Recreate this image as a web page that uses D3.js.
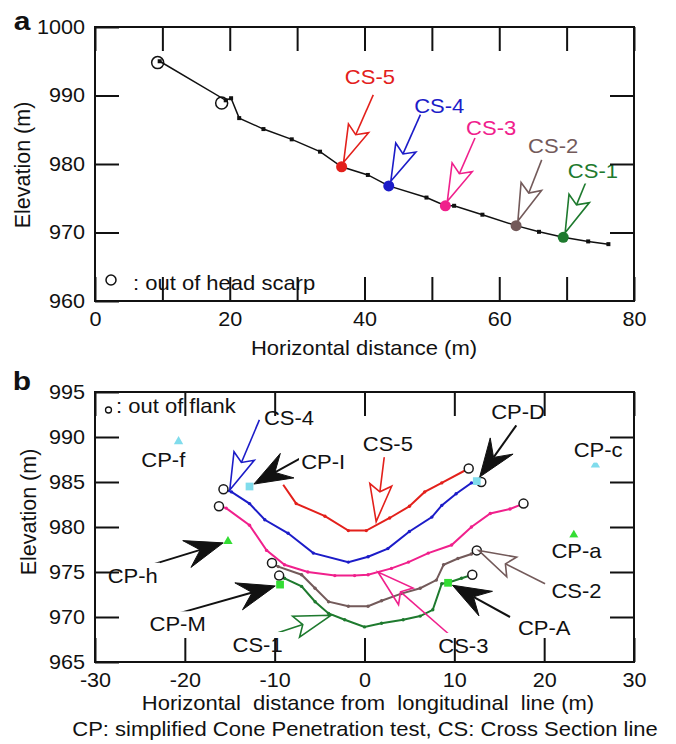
<!DOCTYPE html>
<html>
<head>
<meta charset="utf-8">
<script src="https://cdn.jsdelivr.net/npm/d3@7"></script>
<style>
  body { margin: 0; background: #fff; }
  svg text { font-family: "Liberation Sans", Arial, Helvetica, sans-serif; }
</style>
</head>
<body>
<svg id="chart" width="676" height="744"></svg>
<script>
// ---- panel a : longitudinal profile ----
const profX = [9.6, 19.4, 20.2, 21.4, 25.0, 29.2, 33.4, 36.6, 40.5, 43.6, 49.2, 52.0, 53.3, 57.5, 62.5, 65.9, 69.5, 73.2, 76.2];
const profY = [995.0, 989.3, 989.6, 986.7, 985.1, 983.6, 981.8, 979.6, 978.4, 976.8, 975.1, 973.9, 973.9, 972.6, 971.0, 970.1, 969.3, 968.7, 968.3];
const scarpX = [9.3, 18.8];
const scarpY = [994.8, 988.9];

// cross sections (same order in both panels)
const csNames = ["CS-5", "CS-4", "CS-3", "CS-2", "CS-1"];
const csColors = ["#e3201b", "#1c1cc8", "#f0208c", "#735a5a", "#1e7a2e"];
const csPosX = [36.6, 43.6, 52.0, 62.5, 69.5];
const csPosY = [979.6, 976.8, 973.9, 971.0, 969.3];
const csLabAX = [40.8, 51.1, 58.8, 68.0, 73.9];
const csLabAY = [991.7, 987.4, 984.2, 981.6, 978.0];
const csFromAX = [41.3, 48.3, 56.4, 66.3, 73.0];
const csFromAY = [990.1, 987.2, 983.8, 980.6, 977.7];

// ---- panel b : cross section lines ----
const cs5X = [-9.05, -7.6, -4.4, -1.8, 0.2, 2.8, 5.0, 6.7, 8.6, 11.6];
const cs5Y = [984.7, 982.6, 981.2, 979.6, 979.6, 981.0, 982.3, 983.9, 984.9, 986.5];
const cs4X = [-15.7, -14.8, -12.8, -11.1, -8.5, -5.7, -1.8, 0.4, 2.6, 5.0, 7.5, 8.6, 10.2, 11.9, 13.0];
const cs4Y = [984.2, 983.9, 982.6, 980.8, 979.3, 977.1, 976.1, 976.7, 977.6, 979.5, 981.1, 982.4, 983.7, 984.9, 985.0];
const cs3X = [-16.2, -15.4, -12.8, -10.9, -8.9, -6.3, -3.3, -1.1, 0.4, 3.0, 4.9, 7.1, 9.7, 11.9, 14.0, 16.2, 17.7];
const cs3Y = [982.3, 982.1, 980.2, 977.4, 975.8, 975.0, 974.6, 974.6, 974.7, 975.4, 976.1, 977.1, 978.0, 980.0, 981.5, 982.0, 982.6];
const cs2X = [-10.3, -9.6, -7.0, -5.5, -4.0, -1.8, 0.4, 1.9, 4.1, 6.2, 8.0, 8.8, 10.4, 11.9, 12.5];
const cs2Y = [976.0, 975.6, 974.7, 973.2, 971.7, 971.2, 971.2, 971.8, 972.6, 973.2, 974.1, 975.8, 976.5, 977.0, 977.4];
const cs1X = [-9.5, -8.9, -7.0, -5.5, -4.0, -2.2, 0.0, 1.9, 4.3, 6.2, 7.6, 8.6, 9.3, 10.8, 12.0];
const cs1Y = [974.6, 974.3, 973.4, 971.7, 970.4, 969.7, 968.9, 969.3, 969.7, 970.1, 970.8, 973.7, 973.8, 974.3, 974.7];
const flankLeft = [false, true, true, true, true]; // open circle at left end too

const csLabBX = [2.6, -8.4, 11.0, 23.6, -11.9];
const csLabBY = [988.4, 991.3, 966.0, 972.1, 966.1];
const csFromBX = [2.2, -11.7, 9.5, 20.1, -10.4];
const csFromBY = [987.8, 991.9, 968.0, 973.7, 968.0];
const csToBX = [1.3, -15.0, 1.5, 12.7, -3.7];
const csToBY = [980.6, 984.1, 975.0, 977.4, 970.2];

// cone penetration tests
const cpNames = ["CP-f", "CP-c", "CP-a", "CP-h", "CP-M", "CP-I", "CP-D", "CP-A"];
const cpX = [-20.7, 25.7, 23.3, -15.2, -9.4, -12.8, 12.5, 9.3];
const cpY = [989.5, 986.9, 979.1, 978.4, 973.6, 984.5, 985.1, 973.8];
const cpLabX = [-22.4, 26.0, 23.6, -25.8, -20.8, -4.6, 17.1, 20.0];
const cpLabY = [986.7, 987.8, 976.6, 973.8, 968.4, 986.5, 992.0, 968.0];
const cpFromX = [null, null, null, -25.0, -20.7, -7.2, 16.9, 16.2];
const cpFromY = [null, null, null, 975.4, 970.4, 987.6, 991.3, 970.0];

// tick values
const xTicksA = [0, 10, 20, 30, 40, 50, 60, 70, 80];
const yTicksA = [960, 970, 980, 990, 1000];
const xTicksB = [-30, -20, -10, 0, 10, 20, 30];
const yTicksB = [965, 970, 975, 980, 985, 990, 995];

const cyan = "#80dcec", lime = "#33dd33";
const FS = 20, SX = 1.1;

const svg = d3.select("#chart");
svg.append("rect").attr("width", 676).attr("height", 744).attr("fill", "#fff");

const xA = d3.scaleLinear().domain([0, 80]).range([95, 634]);
const yA = d3.scaleLinear().domain([960, 1000]).range([301, 27]);
const xB = d3.scaleLinear().domain([-30, 30]).range([95, 634]);
const yB = d3.scaleLinear().domain([965, 995]).range([662, 392]);

function addText(g, x, y, str, o = {}) {
  const grp = g.append("g").attr("transform", `translate(${x},${y}) scale(${o.sx || SX},1)`);
  const t = grp.append("text")
    .attr("text-anchor", o.anchor || "middle")
    .attr("font-size", o.size || FS)
    .attr("font-weight", o.weight || "normal")
    .attr("fill", o.color || "#111")
    .style("white-space", "pre")
    .text(str);
  if (o.bg) {
    const b = t.node().getBBox();
    grp.insert("rect", "text")
      .attr("x", b.x - 2).attr("y", b.y - 2)
      .attr("width", b.width + 4).attr("height", b.height + 4)
      .attr("fill", "#fff");
  }
  return grp;
}

function arrow(g, fx, fy, tx, ty, color, filled, gap) {
  const dx = fx - tx, dy = fy - ty, L = Math.hypot(dx, dy);
  const ux = dx / L, uy = dy / L;
  tx += ux * (gap || 0); ty += uy * (gap || 0);
  const len = filled ? 38 : 37, half = filled ? 14 : 11, notch = filled ? 24 : 30;
  const p = (a, b) => [tx + ux * a - uy * b, ty + uy * a + ux * b];
  const n = p(notch, 0);
  g.append("line")
    .attr("x1", fx).attr("y1", fy).attr("x2", n[0]).attr("y2", n[1])
    .attr("stroke", color).attr("stroke-width", filled ? 2 : 1.6);
  g.append("path")
    .attr("d", "M" + [p(0, 0), p(len, half), n, p(len, -half)].join("L") + "Z")
    .attr("fill", filled ? color : "none")
    .attr("stroke", color).attr("stroke-width", filled ? 1 : 1.6)
    .attr("stroke-linejoin", "miter");
}

function frame(x, y, xt, yt, xFmt, yFmt, rightTicks) {
  const [x0, x1] = x.range(), [y0, y1] = y.range();
  const g = svg.append("g");
  g.append("g").attr("transform", `translate(0,${y0})`)
    .call(d3.axisBottom(x).tickValues(xt).tickSizeInner(-24).tickSizeOuter(0).tickPadding(11).tickFormat(xFmt));
  g.append("g").attr("transform", `translate(0,${y1})`)
    .call(d3.axisTop(x).tickValues(xt).tickSizeInner(-24).tickSizeOuter(0).tickFormat(""));
  g.append("g").attr("transform", `translate(${x0},0)`)
    .call(d3.axisLeft(y).tickValues(yt).tickSizeInner(-24).tickSizeOuter(0).tickPadding(10).tickFormat(yFmt));
  g.append("g").attr("transform", `translate(${x1},0)`)
    .call(d3.axisRight(y).tickValues(rightTicks).tickSizeInner(-24).tickSizeOuter(0).tickFormat(""));
  g.selectAll(".domain").remove();
  g.selectAll(".tick line").attr("stroke", "#111").attr("stroke-width", 2);
  g.selectAll(".tick text").attr("font-size", FS).attr("fill", "#111")
    .attr("font-family", "Liberation Sans, Arial, sans-serif");
  g.selectAll("g").filter(function () { return this.getAttribute("text-anchor") === "end"; })
    .selectAll(".tick text").attr("x", 0).attr("transform", "translate(-10,0) scale(1.08,1)");
  g.selectAll("g").filter(function () { return this.getAttribute("text-anchor") === "middle"; })
    .selectAll(".tick text").attr("transform", "scale(1.08,1)");
  g.append("rect").attr("x", x0).attr("y", y1).attr("width", x1 - x0).attr("height", y0 - y1)
    .attr("fill", "none").attr("stroke", "#111").attr("stroke-width", 2);
  return g;
}

// ================= panel a =================
const gA = svg.append("g");
frame(xA, yA, xTicksA, yTicksA, d => (d % 20 === 0 ? d : ""), d => d, [970, 980, 990]);

// legend (white box hides bottom ticks)
addText(gA, 133, 290, ": out of head scarp", { anchor: "start", bg: true, sx: 1.1 });
gA.append("circle").attr("cx", 111).attr("cy", 280).attr("r", 5)
  .attr("fill", "none").attr("stroke", "#111").attr("stroke-width", 1.5);

const prof = profX.map((d, i) => [d, profY[i]]);
gA.append("path").datum(prof)
  .attr("d", d3.line().x(d => xA(d[0])).y(d => yA(d[1])))
  .attr("fill", "none").attr("stroke", "#111").attr("stroke-width", 1.5);
gA.selectAll(".sq").data(prof).join("rect")
  .attr("x", d => xA(d[0]) - 2).attr("y", d => yA(d[1]) - 2)
  .attr("width", 4).attr("height", 4).attr("fill", "#111");
gA.selectAll(".scarp").data(scarpX).join("circle")
  .attr("cx", d => xA(d)).attr("cy", (d, i) => yA(scarpY[i])).attr("r", 6)
  .attr("fill", "none").attr("stroke", "#111").attr("stroke-width", 1.5);
gA.selectAll(".cs").data(csNames).join("circle")
  .attr("cx", (d, i) => xA(csPosX[i])).attr("cy", (d, i) => yA(csPosY[i])).attr("r", 5.5)
  .attr("fill", (d, i) => csColors[i]);
csNames.forEach((name, i) => {
  arrow(gA, xA(csFromAX[i]), yA(csFromAY[i]), xA(csPosX[i]), yA(csPosY[i]), csColors[i], false, 5);
  addText(gA, xA(csLabAX[i]), yA(csLabAY[i]), name, { color: csColors[i], bg: i === 4 });
});

addText(gA, 22, 30, "a", { size: 25, weight: "bold", sx: 1.2, color: "#111" });
gA.append("text").attr("transform", "translate(30,165) rotate(-90)")
  .attr("text-anchor", "middle").attr("font-size", 21.5).attr("fill", "#111").text("Elevation (m)");
addText(gA, 364, 355, "Horizontal distance (m)");

// ================= panel b =================
const gB = svg.append("g");
frame(xB, yB, xTicksB, yTicksB, d => String(d), d => d, [970, 975, 980, 985, 990]);

const lines = [[cs5X, cs5Y], [cs4X, cs4Y], [cs3X, cs3Y], [cs2X, cs2Y], [cs1X, cs1Y]];
lines.forEach(([xs, ys], k) => {
  const pts = xs.map((d, i) => [d, ys[i]]);
  gB.append("path").datum(pts)
    .attr("d", d3.line().x(d => xB(d[0])).y(d => yB(d[1])))
    .attr("fill", "none").attr("stroke", csColors[k]).attr("stroke-width", 2);
  gB.append("g").selectAll("circle").data(pts.slice(1, -1)).join("circle")
    .attr("cx", d => xB(d[0])).attr("cy", d => yB(d[1])).attr("r", 1.7).attr("fill", csColors[k]);
  const ends = flankLeft[k] ? [pts[0], pts[pts.length - 1]] : [pts[pts.length - 1]];
  gB.append("g").selectAll("circle").data(ends).join("circle")
    .attr("cx", d => xB(d[0])).attr("cy", d => yB(d[1])).attr("r", 4.5)
    .attr("fill", "#fff").attr("stroke", "#1a1a1a").attr("stroke-width", 1.5);
});

// CP markers
cpNames.forEach((name, i) => {
  const tri = name.slice(3) === name.slice(3).toLowerCase();
  const col = ["CP-f", "CP-c", "CP-I", "CP-D"].includes(name) ? cyan : lime;
  gB.append("path")
    .attr("transform", `translate(${xB(cpX[i])},${yB(cpY[i])})`)
    .attr("d", d3.symbol(tri ? d3.symbolTriangle : d3.symbolSquare, tri ? 38 : 60)())
    .attr("fill", col);
});

// CS arrows (open) and CP arrows (filled)
csNames.forEach((name, i) => {
  arrow(gB, xB(csFromBX[i]), yB(csFromBY[i]), xB(csToBX[i]), yB(csToBY[i]), csColors[i], false, 0);
});
cpNames.forEach((name, i) => {
  if (cpFromX[i] === null) return;
  arrow(gB, xB(cpFromX[i]), yB(cpFromY[i]), xB(cpX[i]), yB(cpY[i]), "#111", true, 5);
});

// labels
csNames.forEach((name, i) => addText(gB, xB(csLabBX[i]), yB(csLabBY[i]), name, { bg: true }));
cpNames.forEach((name, i) => addText(gB, xB(cpLabX[i]), yB(cpLabY[i]), name, { bg: true }));

// legend
addText(gB, 116, 413, ": out of flank", { anchor: "start", bg: true });
gB.append("circle").attr("cx", 108.5).attr("cy", 410).attr("r", 3)
  .attr("fill", "none").attr("stroke", "#111").attr("stroke-width", 1.3);

addText(gB, 22, 390, "b", { size: 25, weight: "bold", sx: 1.2, color: "#111" });
gB.append("text").attr("transform", "translate(36,512) rotate(-90)")
  .attr("text-anchor", "middle").attr("font-size", 21.5).attr("fill", "#111").text("Elevation (m)");
addText(gB, 368, 710, "Horizontal  distance from  longitudinal  line (m)");
addText(gB, 365, 736, "CP: simplified Cone Penetration test, CS: Cross Section line");
</script>
</body>
</html>
